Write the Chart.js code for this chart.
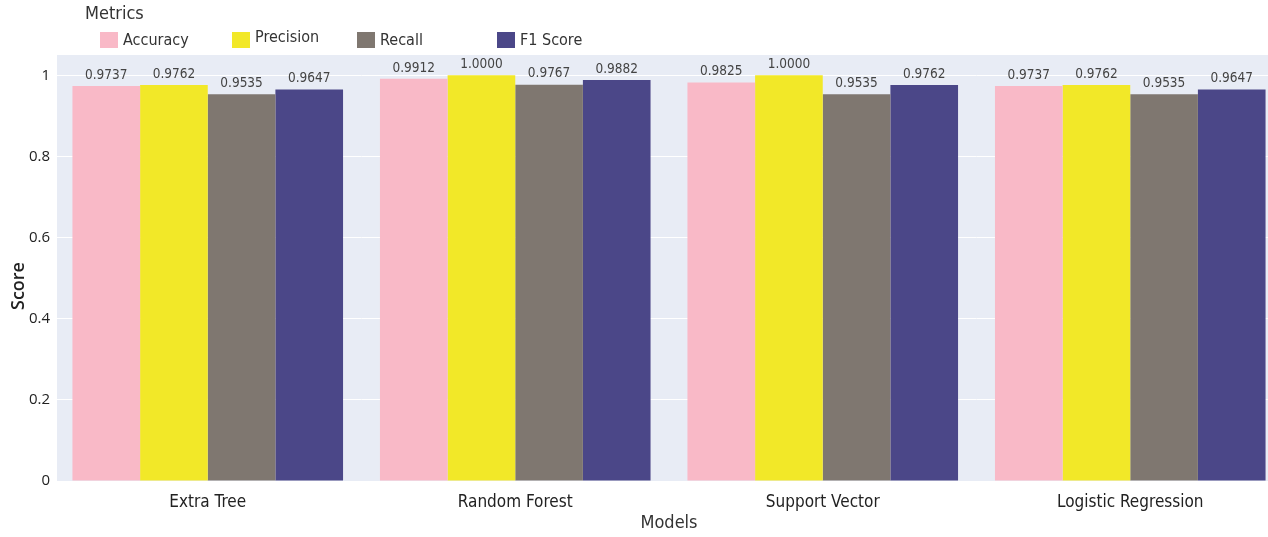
<!DOCTYPE html>
<html>
<head>
<meta charset="utf-8">
<script src="https://cdn.jsdelivr.net/npm/chart.js@4.4.1/dist/chart.umd.min.js"></script>
<style>
  html, body { margin: 0; padding: 0; background: #fff; overflow: hidden; }
  #wrap { width: 1268px; height: 537px; overflow: hidden; position: relative; }
  #wrap canvas { position: absolute; left: 0; top: 0; }
</style>
</head>
<body>
<div id="wrap"><canvas id="scoreChart" width="1290" height="537"></canvas></div>
<script>
const models = ['Extra Tree', 'Random Forest', 'Support Vector', 'Logistic Regression'];
const accuracy = [0.9737, 0.9912, 0.9825, 0.9737];
const precision = [0.9762, 1.0000, 1.0000, 0.9762];
const recall = [0.9535, 0.9767, 0.9535, 0.9535];
const f1Score = [0.9647, 0.9882, 0.9762, 0.9647];
const yTicks = [0, 0.2, 0.4, 0.6, 0.8, 1];

const labelFont = '"DejaVu Sans Condensed", "Liberation Sans Narrow", "DejaVu Sans", sans-serif';
const plotBg = '#E8ECF5';
// left edge of each legend entry
const legendX = [100, 232, 357, 497];

const plotBackground = {
  id: 'plotBackground',
  beforeDraw(chart) {
    const { ctx, chartArea: a } = chart;
    ctx.save();
    ctx.fillStyle = plotBg;
    ctx.fillRect(a.left + 3, a.top, a.right - a.left, a.bottom - a.top);
    ctx.restore();
  }
};

const barValues = {
  id: 'barValues',
  afterDatasetsDraw(chart) {
    const { ctx } = chart;
    ctx.save();
    ctx.font = '13.5px ' + labelFont;
    ctx.fillStyle = '#444';
    ctx.textAlign = 'center';
    ctx.textBaseline = 'bottom';
    chart.data.datasets.forEach((ds, i) => {
      chart.getDatasetMeta(i).data.forEach((bar, j) => {
        ctx.fillText(ds.data[j].toFixed(4), bar.x, bar.y - 4);
      });
    });
    ctx.restore();
  }
};

const legendAndTitles = {
  id: 'legendAndTitles',
  afterDraw(chart) {
    const { ctx } = chart;
    ctx.save();
    ctx.fillStyle = '#333';
    ctx.textBaseline = 'middle';
    ctx.font = '18px ' + labelFont;
    ctx.fillText('Metrics', 85, 14);
    ctx.font = '16px ' + labelFont;
    chart.data.datasets.forEach((ds, i) => {
      const x = legendX[i];
      ctx.fillStyle = ds.backgroundColor;
      ctx.fillRect(x, 32, 18, 16);
      ctx.fillStyle = '#333';
      ctx.fillText(ds.label, x + 23, i === 1 ? 38 : 41);
    });
    // axis titles
    ctx.textAlign = 'center';
    ctx.font = '18px ' + labelFont;
    ctx.fillStyle = '#333';
    ctx.fillText('Models', 669, 523);
    ctx.translate(19, 286);
    ctx.rotate(-Math.PI / 2);
    ctx.font = '600 18px "Open Sans", sans-serif';
    ctx.fillStyle = '#222';
    ctx.fillText('Score', 0, 0);
    ctx.restore();
  }
};

new Chart(document.getElementById('scoreChart'), {
  type: 'bar',
  data: {
    labels: models,
    datasets: [
      { label: 'Accuracy', data: accuracy, backgroundColor: '#F9B9C7' },
      { label: 'Precision', data: precision, backgroundColor: '#F2E828' },
      { label: 'Recall', data: recall, backgroundColor: '#7F7770' },
      { label: 'F1 Score', data: f1Score, backgroundColor: '#4B4788' }
    ]
  },
  options: {
    responsive: false,
    animation: false,
    layout: { padding: { top: 55, right: 6, left: 0, bottom: 0 } },
    datasets: { bar: { categoryPercentage: 0.88, barPercentage: 1.0, borderWidth: 0 } },
    plugins: {
      legend: { display: false },
      tooltip: { enabled: false }
    },
    scales: {
      x: {
        grid: { display: false },
        border: { display: false },
        ticks: { color: '#222', font: { family: labelFont, size: 17 }, padding: 3 },
        afterFit(scale) { scale.height = 56; }
      },
      y: {
        min: 0,
        max: 1.05,
        grid: { color: '#fff', lineWidth: 1, drawTicks: false },
        border: { display: false },
        ticks: {
          color: '#222',
          padding: 4,
          font: { family: '"Open Sans", sans-serif', size: 15 },
          callback: v => String(v)
        },
        afterBuildTicks(scale) { scale.ticks = yTicks.map(v => ({ value: v })); },
        afterFit(scale) { scale.width = 54; }
      }
    }
  },
  plugins: [plotBackground, barValues, legendAndTitles]
});
</script>
</body>
</html>
